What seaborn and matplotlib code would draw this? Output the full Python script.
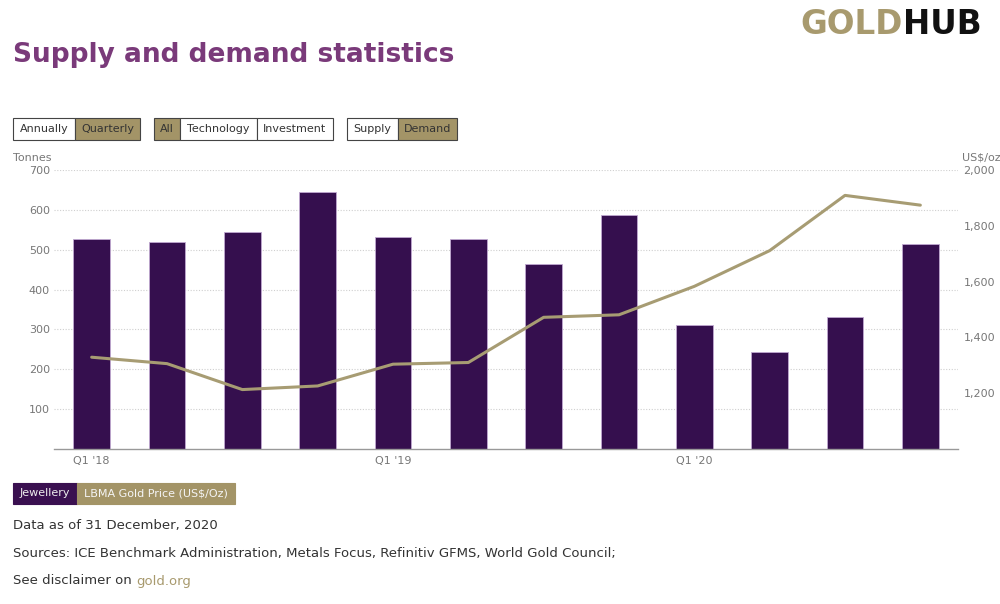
import numpy as np
import pandas as pd
import matplotlib
matplotlib.use("Agg")
import matplotlib.pyplot as plt
from matplotlib.patches import Rectangle
import seaborn as sns

# jewellery demand (tonnes) and LBMA gold price (US$/oz), quarterly 2018-2020
quarters = ["Q1 '18", "Q2 '18", "Q3 '18", "Q4 '18",
            "Q1 '19", "Q2 '19", "Q3 '19", "Q4 '19",
            "Q1 '20", "Q2 '20", "Q3 '20", "Q4 '20"]
jewellery = [527, 520, 545, 646, 532, 527, 465, 588, 312, 243, 331, 514]
gold_price = [1329, 1306, 1213, 1226, 1304, 1310, 1472, 1481, 1583, 1711, 1909, 1874]

left_ticks = [100, 200, 300, 400, 500, 600, 700]
right_ticks = [1200, 1400, 1600, 1800, 2000]
right_labels = ["1,200", "1,400", "1,600", "1,800", "2,000"]
shown_labels = {0: "Q1 '18", 4: "Q1 '19", 8: "Q1 '20"}

PURPLE = "#350f4e"
GOLD = "#a79c73"
TITLE = "#7a3a7a"
GREY = "#777777"
TEXT = "#333333"

W, H = 1000, 604
sns.set_style("white")
plt.rcParams["font.family"] = ["DejaVu Sans"]

fig = plt.figure(figsize=(W / 100, H / 100), dpi=100)


def fx(px):
    return px / W


def fy(py):
    return 1 - py / H


# main axes, placed in pixels
ax = fig.add_axes([fx(54), fy(449), fx(958 - 54), (449 - 170) / H])

df = pd.DataFrame({"quarter": quarters, "jewellery": jewellery, "price": gold_price})
sns.barplot(data=df, x="quarter", y="jewellery", color=PURPLE, width=0.49,
            edgecolor="#c0a8d0", linewidth=0.6, saturation=1, ax=ax, zorder=2)
ax.set_ylim(0, 700)
ax.set_xlim(-0.5, len(quarters) - 0.5)
ax.set_yticks(left_ticks)
ax.set_yticklabels([str(t) for t in left_ticks], color=GREY, fontsize=8)
ax.yaxis.grid(True, linestyle=(0, (1, 1.5)), color="#cfcfcf", linewidth=0.8)
ax.set_axisbelow(True)
ax.set_xticks(list(shown_labels.keys()))
ax.set_xticklabels(list(shown_labels.values()), color=GREY, fontsize=8)
ax.set_xticks(np.arange(-0.5, len(quarters), 1), minor=True)
ax.tick_params(axis="x", which="major", length=0, pad=5)
ax.tick_params(axis="x", which="minor", length=8, color="#bbbbbb", width=0.8)
ax.tick_params(axis="y", length=0, pad=3)
ax.set_xlabel("")
ax.set_ylabel("")
for side in ["top", "right", "left"]:
    ax.spines[side].set_visible(False)
ax.spines["bottom"].set_color("#999999")
ax.spines["bottom"].set_linewidth(1)

ax2 = ax.twinx()
sns.lineplot(x=np.arange(len(quarters)), y=gold_price, color=GOLD, linewidth=2.2, ax=ax2)
ax2.set_xlim(-0.5, len(quarters) - 0.5)
ax2.set_ylim(1000, 2000)
ax2.set_yticks(right_ticks)
ax2.set_yticklabels(right_labels, color=GREY, fontsize=8)
ax2.tick_params(axis="y", length=0, pad=4)
ax2.set_ylabel("")
for side in ax2.spines:
    ax2.spines[side].set_visible(False)

fig.text(fx(13), fy(158), "Tonnes", color=GREY, fontsize=8, va="center", ha="left")
fig.text(fx(962), fy(158), "US$/oz", color=GREY, fontsize=8, va="center", ha="left")

# title and logo
fig.text(fx(13), fy(55), "Supply and demand statistics", color=TITLE, fontsize=19,
         fontweight="bold", va="center", ha="left")
fig.text(fx(903), fy(25), "GOLD", color="#a89a6e", fontsize=23.5, fontweight="bold",
         va="center", ha="right")
fig.text(fx(903), fy(25), "HUB", color="#111111", fontsize=23.5, fontweight="bold",
         va="center", ha="left")


def box(x0, x1, y0, y1, label, fill, txt_color, edge="#444444"):
    fig.add_artist(Rectangle((fx(x0), fy(y1)), fx(x1 - x0), (y1 - y0) / H,
                             facecolor=fill, edgecolor=edge, linewidth=0.8,
                             transform=fig.transFigure))
    fig.text(fx((x0 + x1) / 2), fy((y0 + y1) / 2), label, color=txt_color,
             fontsize=8, va="center", ha="center")


# toggle buttons
BTN_GOLD = "#a39467"
box(13, 75, 118, 140, "Annually", "white", TEXT)
box(75, 140, 118, 140, "Quarterly", BTN_GOLD, TEXT)
box(154, 180, 118, 140, "All", BTN_GOLD, TEXT)
box(180, 257, 118, 140, "Technology", "white", TEXT)
box(257, 333, 118, 140, "Investment", "white", TEXT)
box(347, 398, 118, 140, "Supply", "white", TEXT)
box(398, 457, 118, 140, "Demand", BTN_GOLD, TEXT)

# legend
box(13, 77, 483, 504, "Jewellery", "#3a1050", "#eeeeee", edge="#3a1050")
box(77, 235, 483, 504, "LBMA Gold Price (US$/Oz)", "#a39467", "#f5f5f5", edge="#a39467")

# footer
fig.text(fx(13), fy(525), "Data as of 31 December, 2020", color=TEXT, fontsize=9.5,
         va="center", ha="left")
fig.text(fx(13), fy(553),
         "Sources: ICE Benchmark Administration, Metals Focus, Refinitiv GFMS, World Gold Council;",
         color=TEXT, fontsize=9.5, va="center", ha="left")
t = fig.text(fx(13), fy(581), "See disclaimer on ", color=TEXT, fontsize=9.5,
             va="center", ha="left")
fig.canvas.draw()
bb = t.get_window_extent()
fig.text(bb.x1 / W, fy(581), "gold.org", color="#a89a6e", fontsize=9.5,
         va="center", ha="left")

fig.savefig("out.png", dpi=100)
